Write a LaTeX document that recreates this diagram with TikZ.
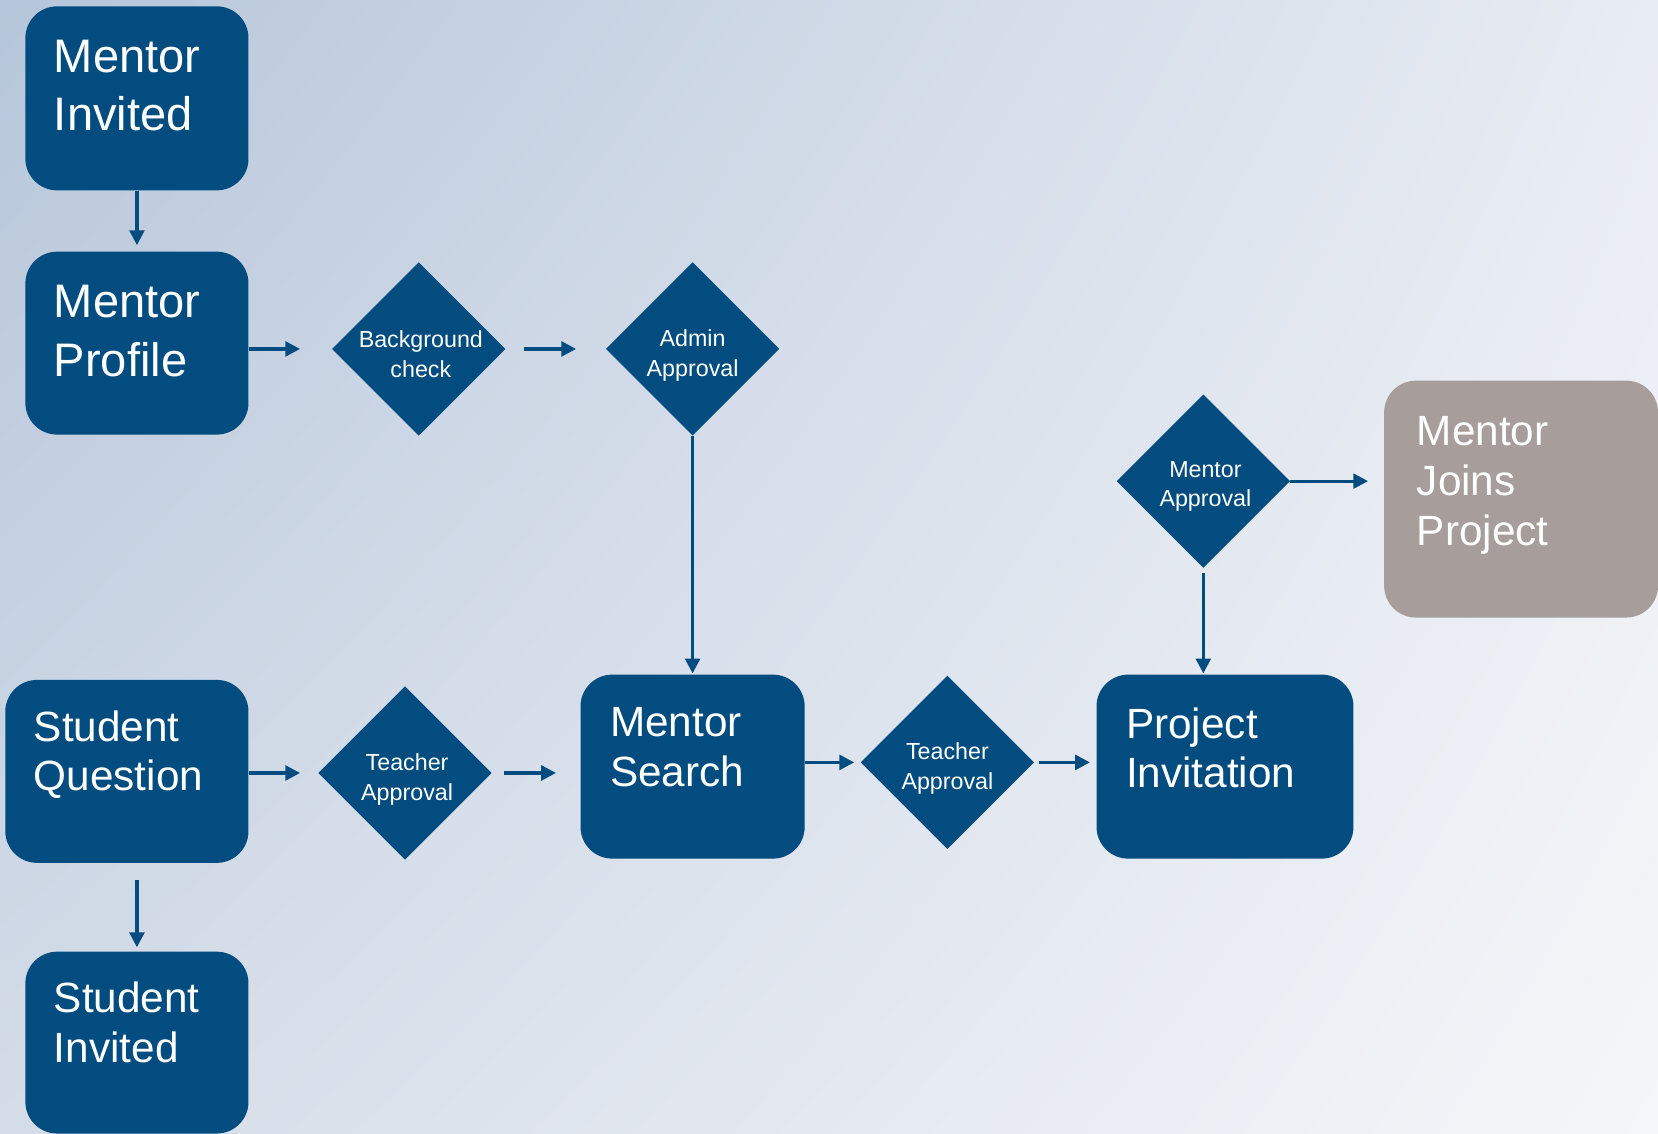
\documentclass[tikz,border=0pt]{standalone}
\usepackage{fontspec}
\setmainfont{Liberation Sans}
\usetikzlibrary{shapes.geometric,arrows.meta,shadings}
\definecolor{mblue}{RGB}{2,76,128}
\definecolor{mgrey}{RGB}{167,158,156}
\definecolor{bgUL}{RGB}{182,198,218}
\definecolor{bgUR}{RGB}{232,236,243}
\definecolor{bgLL}{RGB}{212,220,232}
\definecolor{bgLR}{RGB}{245,246,249}
\begin{document}
\begin{tikzpicture}[x=1pt,y=-1pt,
  box/.style={fill=mblue, draw=none, rounded corners=30pt, inner sep=0pt},
  greybox/.style={box, fill=mgrey},
  dia/.style={diamond, fill=mblue, draw=none, inner sep=0pt, minimum width=164pt, minimum height=164pt},
  dtxt/.style={text=white, align=center, inner sep=0pt, font=\fontsize{22pt}{28pt}\selectfont},
  bigtxt/.style={text=white, align=left, inner sep=0pt, anchor=north west, font=\fontsize{44.5pt}{55pt}\selectfont},
  txt/.style={text=white, align=left, inner sep=0pt, anchor=north west, font=\fontsize{40pt}{47pt}\selectfont},
  arr/.style={draw=mblue, line width=3pt, -{Triangle[length=14pt,width=14pt]}}
]
\useasboundingbox (0,0) rectangle (1568,1072);
\shade[upper left=bgUL, upper right=bgUR, lower left=bgLL, lower right=bgLR] (0,0) rectangle (1568,1072);

% boxes
\node[box, minimum width=211pt, minimum height=174pt] (mi) at (129.5,93) {};
\node[box, minimum width=211pt, minimum height=173pt] (mp) at (129.5,324.5) {};
\node[box, minimum width=230pt, minimum height=173pt] (sq) at (120,729.5) {};
\node[box, minimum width=211pt, minimum height=172pt] (si) at (129.5,986) {};
\node[box, minimum width=212pt, minimum height=174pt] (ms) at (655,725) {};
\node[box, minimum width=243pt, minimum height=174pt] (pi) at (1158.5,725) {};
\node[greybox, minimum width=259pt, minimum height=224pt] (mj) at (1438.5,472) {};

% box texts
\node[bigtxt] (mit) at ([xshift=27pt,yshift=-32pt]mi.north west) {Mentor\\Invited};
\node[bigtxt] (mpt) at ([xshift=27pt,yshift=-32pt]mp.north west) {Mentor\\Profile};
\node[txt] (sqt) at ([xshift=27pt,yshift=-29pt]sq.north west) {Student\\Question};
\node[txt] (sit) at ([xshift=27pt,yshift=-29pt]si.north west) {Student\\Invited};
\node[txt] (mst) at ([xshift=28pt,yshift=-31pt]ms.north west) {Mentor\\Search};
\node[txt] (pit) at ([xshift=28pt,yshift=-31pt]pi.north west) {Project\\Invitation};
\node[txt] (mjt) at ([xshift=31pt,yshift=-34pt]mj.north west) {Mentor\\Joins\\Project};

% diamonds
\node[dia] (bg) at (396,330) {};
\node[dia] (ad) at (655,330) {};
\node[dia] (ta1) at (383,731) {};
\node[dia] (ta2) at (896,721) {};
\node[dia] (ma) at (1138,455) {};
\node[dtxt] (bgt) at ([xshift=2pt,yshift=-5pt]bg.center) {Background\\check};
\node[dtxt] (adt) at ([yshift=-6pt]ad.center) {Admin\\Approval};
\node[dtxt] (ta1t) at ([xshift=2pt,yshift=-6pt]ta1.center) {Teacher\\Approval};
\node[dtxt] (ta2t) at ([yshift=-6pt]ta2.center) {Teacher\\Approval};
\node[dtxt] (mat) at ([xshift=2pt,yshift=-5pt]ma.center) {Mentor\\Approval};

% connectors
\draw[arr, shorten >=6pt] (mi.south) -- (mp.north);
\draw[arr, shorten >=30pt] (mp.east |- bg) -- (bg.west);
\draw[arr, shorten <=17pt, shorten >=28pt] (bg.east) -- (ad.west);
\draw[arr, shorten >=1pt] (ad.south) -- (ms.north);
\draw[arr, shorten >=17pt] (sq.east |- ta1) -- (ta1.west);
\draw[arr, shorten <=11pt, shorten >=23pt] (ta1.east) -- (ta1.east -| ms.west);
\draw[arr, shorten <=16pt, shorten >=4pt] (si.north |- sq.south) -- (si.north);
\draw[arr, shorten >=6pt] (ms.east |- ta2) -- (ta2.west);
\draw[arr, shorten <=4pt, shorten >=6pt] (ta2.east) -- (ta2.east -| pi.west);
\draw[arr, shorten <=5pt, shorten >=1pt] (ma.south) -- (ma.south |- pi.north);
\draw[arr, shorten >=15pt] (ma.east) -- (ma.east -| mj.west);
\end{tikzpicture}
\end{document}
